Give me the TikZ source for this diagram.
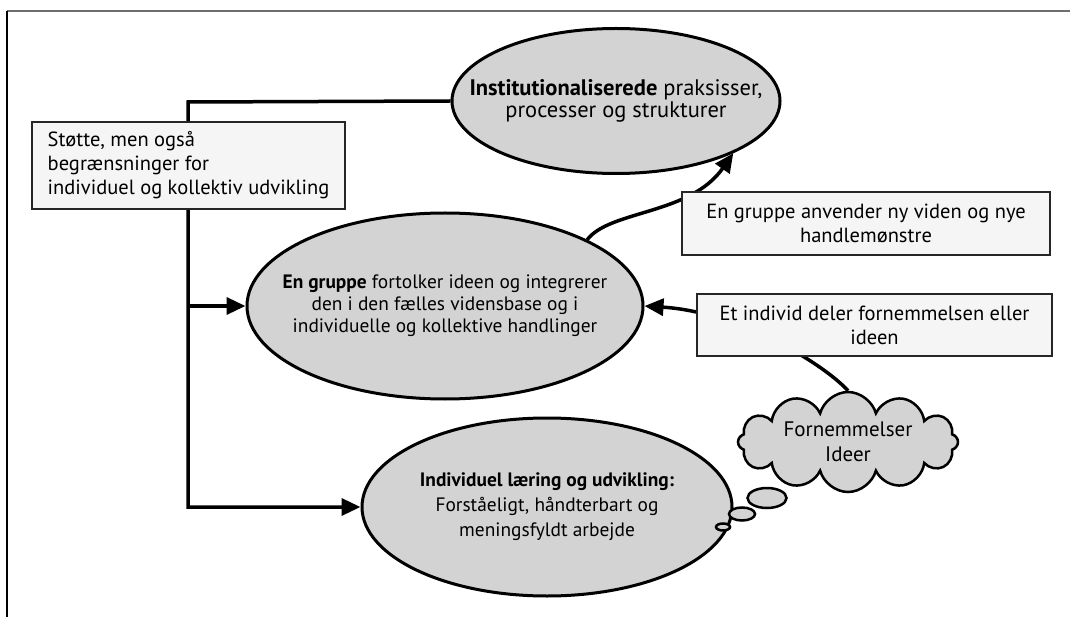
\documentclass[tikz,border=0pt]{standalone}
\usepackage{fontspec}
\setmainfont{PT Sans}
\usetikzlibrary{shapes.geometric,shapes.symbols,arrows.meta}
\definecolor{ovalgray}{RGB}{211,211,211}
\definecolor{boxgray}{RGB}{245,245,245}
\definecolor{framegray}{RGB}{110,110,110}

\begin{document}
\begin{tikzpicture}[x=1pt,y=-1pt,
  every node/.style={font=\fontsize{19.4}{22}\selectfont},
  oval/.style={ellipse,draw,line width=3pt,fill=ovalgray,align=center,inner sep=-100pt},
  note/.style={draw=black!85,line width=1.5pt,fill=boxgray,align=center,inner sep=0pt,
    font=\fontsize{20.5}{24}\selectfont},
  flow/.style={line width=3.5pt,-{Triangle[length=19pt,width=17pt]}},
  puff/.style={ellipse,draw,line width=2.5pt,fill=ovalgray,inner sep=0pt}]
\useasboundingbox (0,0) rectangle (1070,617);
\draw[framegray,line width=2pt] (7,11) -- (1070,11);
\draw[line width=1.5pt] (7,11) -- (7,617);

\node[oval,minimum width=328pt,minimum height=145pt,font=\fontsize{22.5}{22}\selectfont] (inst) at (616,101)
  {\textbf{Institutionaliserede} praksisser,\\processer og strukturer};
\node[oval,minimum width=396pt,minimum height=186pt] (gruppe) at (445,306)
  {\textbf{En gruppe} fortolker ideen og integrerer\\den i den fælles vidensbase og i\\individuelle og kollektive handlinger};
\node[oval,minimum width=370pt,minimum height=178pt,font=\fontsize{19.4}{25}\selectfont] (laering) at (547,507)
  {\textbf{Individuel læring og udvikling:}\\Forståeligt, håndterbart og\\meningsfyldt arbejde};
\node[cloud,cloud puffs=12,cloud ignores aspect,draw,line width=2.5pt,fill=ovalgray,
  minimum width=220pt,minimum height=100pt,inner sep=0pt,align=center,
  font=\fontsize{21}{25}\selectfont] (idea) at (848,442)
  {Fornemmelser\\Ideer};
\node[puff,minimum width=39pt,minimum height=20pt] (puffa) at (767,498) {};
\node[puff,minimum width=26pt,minimum height=13pt] (puffb) at (742,514) {};
\node[puff,minimum width=14pt,minimum height=7pt] (puffc) at (723,527) {};

\coordinate (knee) at (188,102);
\coordinate (foot) at (188,507);
\draw[flow] (inst.west) -- (knee) -- (foot) -- (laering.west);
\draw[flow] (gruppe.west -| knee) -- (gruppe.west);
\draw[flow] (gruppe.25) .. controls (610,210) and (690,215) .. (inst.-24);
\draw[flow] (idea.north) .. controls (825,365) and (740,312) .. (gruppe.east);

\node[note,align=left,minimum width=313pt,minimum height=87pt] (stoette) at (188.5,165.5)
  {Støtte, men også\\begrænsninger for\\individuel og kollektiv udvikling};
\node[note,minimum width=368pt,minimum height=63pt] (anvend) at (866,223.5)
  {En gruppe anvender ny viden og nye\\handlemønstre};
\node[note,minimum width=355pt,minimum height=62pt] (deler) at (874.5,325)
  {Et individ deler fornemmelsen eller\\ideen};
\end{tikzpicture}
\end{document}
